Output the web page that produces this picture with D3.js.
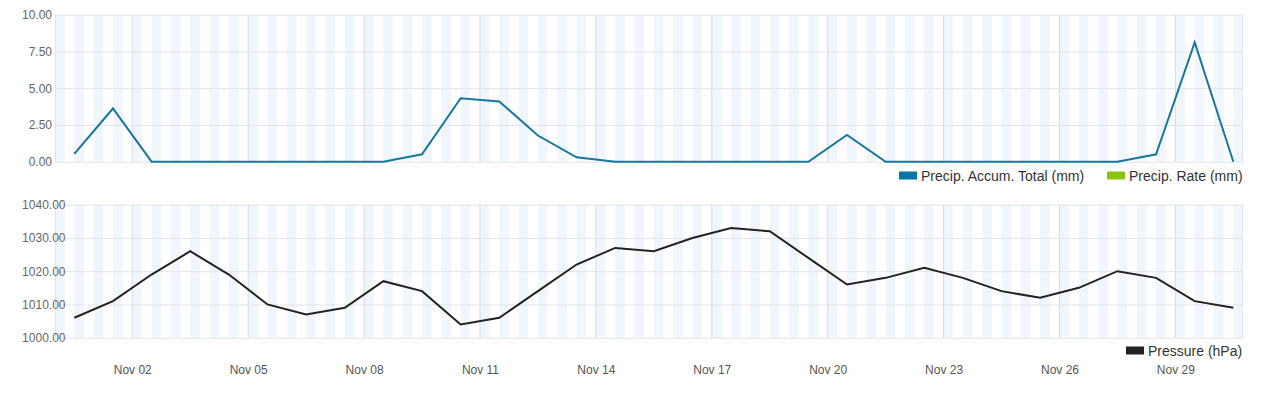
<!DOCTYPE html>
<html>
<head>
<meta charset="utf-8">
<script src="https://cdn.jsdelivr.net/npm/d3@7"></script>
<style>
  html, body { margin: 0; padding: 0; background: #fff; }
  svg { display: block; font-family: "Liberation Sans", Arial, sans-serif; }
</style>
</head>
<body>
<svg id="chart" width="1281" height="393"></svg>
<script>
// ---- data ----
const dates = [
  "2023-10-31T12:00Z","2023-11-01T12:00Z","2023-11-02T12:00Z","2023-11-03T12:00Z","2023-11-04T12:00Z",
  "2023-11-05T12:00Z","2023-11-06T12:00Z","2023-11-07T12:00Z","2023-11-08T12:00Z","2023-11-09T12:00Z",
  "2023-11-10T12:00Z","2023-11-11T12:00Z","2023-11-12T12:00Z","2023-11-13T12:00Z","2023-11-14T12:00Z",
  "2023-11-15T12:00Z","2023-11-16T12:00Z","2023-11-17T12:00Z","2023-11-18T12:00Z","2023-11-19T12:00Z",
  "2023-11-20T12:00Z","2023-11-21T12:00Z","2023-11-22T12:00Z","2023-11-23T12:00Z","2023-11-24T12:00Z",
  "2023-11-25T12:00Z","2023-11-26T12:00Z","2023-11-27T12:00Z","2023-11-28T12:00Z","2023-11-29T12:00Z",
  "2023-11-30T12:00Z"
];
const precipTotal = [0.53, 3.62, 0, 0, 0, 0, 0, 0, 0, 0.5, 4.32, 4.1, 1.78, 0.3, 0,
  0, 0, 0, 0, 0, 1.82, 0, 0, 0, 0, 0, 0, 0, 0.5, 8.11, 0];
const pressure = [1006, 1011, 1019, 1026, 1019, 1010, 1007, 1009, 1017, 1014, 1004, 1006, 1014, 1022, 1027,
  1026, 1030, 1033, 1032, 1024, 1016, 1018, 1021, 1018, 1014, 1012, 1015, 1020, 1018, 1011, 1009];
const xTickDates = ["2023-11-02","2023-11-05","2023-11-08","2023-11-11","2023-11-14",
  "2023-11-17","2023-11-20","2023-11-23","2023-11-26","2023-11-29"];
const precipTicks = [0, 2.5, 5, 7.5, 10];
const pressureTicks = [1000, 1010, 1020, 1030, 1040];
const xDomain = ["2023-10-31T00:00Z", "2023-11-30T18:00Z"];
const legendTop = ["Precip. Accum. Total (mm)", "Precip. Rate (mm)"];
const legendBottom = ["Pressure (hPa)"];

// ---- setup ----
const svg = d3.select("#chart");
const left = 55, right = 1243;
const parse = s => new Date(s);
const x = d3.scaleUtc().domain(xDomain.map(parse)).range([left, right]);

const yTop = d3.scaleLinear().domain([0, 10]).range([161.7, 14.7]);
const yBot = d3.scaleLinear().domain([1000, 1040]).range([337.7, 204.7]);

const gridColor = "#e1e4e8";
const vGridColor = "#d5dbe1";
const stripeColor = "#f0f6fc";
const labelColor = "#666";

function panel(y, ticks, fmtAnchorX) {
  const g = svg.append("g");
  const [y0, y1] = y.range();
  // stripes every 12h, 6h wide
  const starts = d3.utcHour.every(12).range(x.domain()[0], x.domain()[1]);
  g.selectAll("rect.stripe").data(starts).join("rect")
    .attr("class", "stripe")
    .attr("x", d => x(d))
    .attr("width", d => Math.min(x(d3.utcHour.offset(d, 6)), right) - x(d))
    .attr("y", y1).attr("height", y0 - y1)
    .attr("fill", stripeColor);
  // vertical grid at ticks
  g.selectAll("line.vg").data(xTickDates.map(s => parse(s + "T00:00Z"))).join("line")
    .attr("x1", d => x(d)).attr("x2", d => x(d))
    .attr("y1", y1).attr("y2", y0)
    .attr("stroke", vGridColor).attr("stroke-width", 1);
  // horizontal grid via axis
  const ax = d3.axisLeft(y).tickValues(ticks).tickSize(-(right - left)).tickFormat(d3.format(".2f"));
  const ag = g.append("g").attr("transform", `translate(${left},0)`).call(ax);
  ag.select(".domain").remove();
  ag.selectAll(".tick line").attr("stroke", gridColor);
  ag.selectAll(".tick text").attr("fill", labelColor).attr("font-size", 12)
    .attr("x", fmtAnchorX - left).attr("text-anchor", "end");
  // borders left/right
  g.append("line").attr("x1", left + 0.5).attr("x2", left + 0.5).attr("y1", y1).attr("y2", y0).attr("stroke", gridColor);
  g.append("line").attr("x1", right - 0.5).attr("x2", right - 0.5).attr("y1", y1).attr("y2", y0).attr("stroke", gridColor);
  return ag;
}

const agTop = panel(yTop, precipTicks, 52);
const agBot = panel(yBot, pressureTicks, 65.5);
// raise bottom labels above marks later

// lines
const pts = dates.map(parse);
const lineTop = d3.line().x((d, i) => x(pts[i])).y(d => yTop(d));
svg.append("path").datum(precipTotal).attr("d", lineTop)
  .attr("fill", "none").attr("stroke", "#18779f").attr("stroke-width", 2).attr("stroke-linejoin", "miter");

const lineBot = d3.line().x((d, i) => x(pts[i])).y(d => yBot(d));
svg.append("path").datum(pressure).attr("d", lineBot)
  .attr("fill", "none").attr("stroke", "#222").attr("stroke-width", 2).attr("stroke-linejoin", "miter");

// labels on top
agBot.raise();
agTop.raise();

// x axis labels
const xa = d3.axisBottom(x).tickValues(xTickDates.map(s => parse(s + "T00:00Z")))
  .tickFormat(d3.utcFormat("%b %d")).tickSize(0);
const xg = svg.append("g").attr("transform", "translate(0,362)").call(xa);
xg.select(".domain").remove();
xg.selectAll(".tick text").attr("fill", "#555").attr("font-size", 12).attr("dy", "0.71em");

// legends
const legTopItems = [
  { label: legendTop[0], color: "#0a76a3", sx: 899 },
  { label: legendTop[1], color: "#8bc314", sx: 1107 }
];
legTopItems.forEach(it => {
  svg.append("rect").attr("x", it.sx).attr("y", 171.5).attr("width", 18).attr("height", 8).attr("fill", it.color);
  svg.append("text").attr("x", it.sx + 22).attr("y", 180.5).attr("font-size", 14).attr("fill", "#333").text(it.label);
});
svg.append("rect").attr("x", 1126).attr("y", 346.5).attr("width", 18).attr("height", 8).attr("fill", "#222");
svg.append("text").attr("x", 1148).attr("y", 356).attr("font-size", 14).attr("fill", "#333").text(legendBottom[0]);
</script>
</body>
</html>
